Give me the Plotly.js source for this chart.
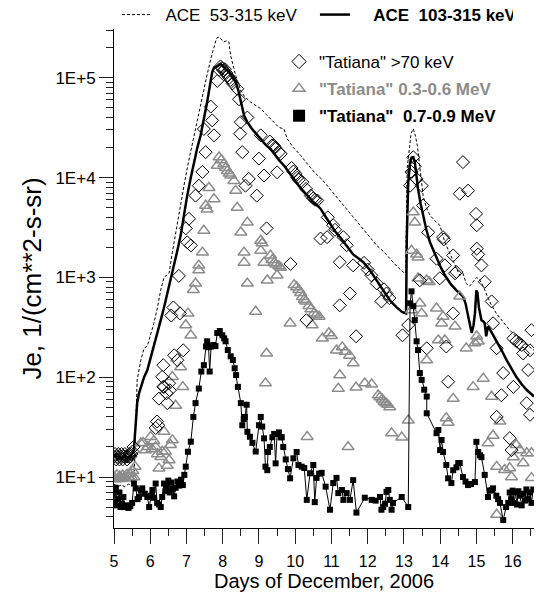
<!DOCTYPE html>
<html><head><meta charset="utf-8">
<script src="https://cdn.plot.ly/plotly-3.0.1.min.js"></script>
<style>html,body{margin:0;padding:0;overflow:hidden;background:#fff}#plot{width:600px;height:598px}</style>
</head><body><div id="plot"></div>
<script>
// ACE 53-315 keV (dashed)
const ace53Day = [5.0,5.1,5.2,5.3,5.4,5.5,5.55,5.6,5.64,5.74,5.83,5.92,6.0,6.1,6.2,6.29,6.38,6.52,6.6,6.7,6.8,6.93,7.05,7.21,7.32,7.44,7.55,7.67,7.76,7.83,7.90,8.03,8.1,8.17,8.22,8.3,8.36,8.5,8.6,8.77,8.9,9.05,9.2,9.32,9.45,9.55,9.69,9.78,9.95,10.15,10.35,10.52,10.75,10.96,11.2,11.42,11.6,11.79,11.97,12.25,12.45,12.61,12.8,12.98,13.05,13.09,13.15,13.2,13.26,13.32,13.37,13.44,13.53,13.62,13.72,13.85,13.99,14.13,14.25,14.36,14.54,14.63,14.72,14.81,14.9,15.01,15.1,15.2,15.3,15.4,15.55,15.7,15.92,16.05,16.2,16.4,16.59];
const ace53Val = [8.5,8,8.3,8,8.5,8.2,9,40,94,148,195,205,260,347,500,750,1000,1100,1700,2830,4500,8300,14000,26500,42000,66000,100000,155000,210000,250000,256000,229000,235000,229000,166000,130000,105000,74000,65000,57000,53000,49000,43000,38600,35000,31900,30700,24500,20000,16700,13500,11400,9500,7700,6000,4880,4000,3330,2830,2090,1800,1540,1300,1130,1100,12400,21000,28000,30800,26000,21000,12400,6600,5000,4200,3700,3330,2250,1800,1420,1050,1100,870,815,900,1000,935,800,650,540,436,370,296,265,235,210,186];
// ACE 103-315 keV (thick solid)
const ace103Day = [5.0,5.05,5.1,5.15,5.2,5.25,5.3,5.35,5.4,5.45,5.5,5.55,5.6,5.64,5.69,5.76,5.83,5.92,6.0,6.1,6.2,6.29,6.38,6.47,6.56,6.64,6.74,6.84,6.93,7.02,7.12,7.21,7.3,7.39,7.48,7.57,7.65,7.71,7.76,7.85,7.94,8.05,8.17,8.27,8.36,8.43,8.5,8.59,8.68,8.8,8.96,9.1,9.2,9.32,9.45,9.55,9.69,9.83,9.97,10.1,10.2,10.33,10.5,10.6,10.7,10.83,10.96,11.1,11.25,11.42,11.6,11.75,11.88,12.05,12.2,12.4,12.61,12.8,12.95,13.06,13.08,13.12,13.17,13.21,13.26,13.3,13.35,13.39,13.46,13.53,13.62,13.72,13.8,13.9,14.0,14.13,14.3,14.45,14.55,14.63,14.7,14.77,14.82,14.87,14.92,14.96,15.0,15.03,15.07,15.14,15.2,15.23,15.27,15.32,15.4,15.55,15.7,15.83,15.95,16.1,16.25,16.4,16.59];
const ace103Val = [16,17,15,16,15,16,17,15,16,16,17,19,40,55,69,85,100,118,150,203,280,373,500,690,900,1180,1800,2640,4200,6600,10000,14300,20000,26500,38000,57000,85000,114000,126000,130000,138000,125000,114000,100000,90600,75000,57000,41900,36000,31000,26500,23000,21000,19400,16500,15000,13200,11200,9700,8300,7500,6600,5700,5300,4880,4100,3440,2900,2500,2090,1700,1550,1420,1200,1000,780,590,500,450,436,2500,9000,14000,15900,16000,14300,10000,7700,5500,4200,3000,2250,1900,1540,1300,1050,850,740,680,645,550,405,330,277,330,436,740,700,500,373,360,347,257,323,290,235,185,149,125,101,85,74,64];
// "Tatiana" >70 keV (open diamonds)
const t70Day = [5.0,5.03,5.06,5.09,5.12,5.15,5.18,5.21,5.24,5.27,5.3,5.33,5.36,5.39,5.42,5.45,5.48,5.51,5.54,6.15,6.19,6.22,6.24,6.33,6.36,6.36,6.38,6.45,6.47,6.52,6.54,6.58,6.64,6.66,6.75,6.79,6.82,6.91,6.98,7.02,7.07,7.12,7.25,7.34,7.44,7.48,7.53,7.67,7.71,7.76,7.85,7.9,7.94,7.98,8.02,8.06,8.1,8.14,8.18,8.22,8.27,8.4,8.45,8.48,8.5,8.54,8.63,8.68,8.72,8.94,9.0,9.05,9.14,9.21,9.3,9.36,9.41,9.45,9.5,9.55,9.6,9.87,9.9,9.95,10.01,10.06,10.1,10.2,10.3,10.31,10.43,10.5,10.55,10.61,10.7,10.88,10.9,11.05,11.1,11.23,11.23,11.33,11.42,11.51,11.6,11.68,11.9,12.0,12.1,12.25,12.38,12.45,12.52,12.6,12.96,13.12,13.17,13.21,13.26,13.3,13.35,13.44,13.49,13.53,13.63,13.67,13.9,13.99,14.08,14.1,14.13,14.17,14.22,14.36,14.36,14.41,14.45,14.54,14.63,14.77,14.99,15.01,15.01,15.05,15.14,15.23,15.42,15.46,15.56,15.56,15.69,15.74,15.92,15.97,16.02,16.02,16.1,16.18,16.25,16.29,16.39,16.43,16.48,16.48,16.52];
const t70Val = [16,17,15,16,17,15,16,17,15,16,17,16,15,16,17,16,17,18,20,31,36,33,61,101,80,132,80,69,55,87,74,415,500,166,148,1035,436,186,3100,2250,3870,2090,6600,8300,11400,30700,18000,51500,37400,26500,93000,120000,130000,125000,118000,122000,112000,105000,100000,95000,88000,77500,61000,27500,36000,18000,8300,40000,9700,6600,15500,26500,10500,3100,23000,21000,21000,20000,11300,18000,17300,1365,12500,11500,10900,10000,9500,9000,7700,373,6600,6200,6000,5900,2450,2530,4000,3330,3000,1420,525,2530,2100,690,1320,257,1400,1200,1050,870,575,760,690,620,263,333,8300,11400,16000,13000,9700,935,8300,5250,195,2830,1540,980,2530,2400,1320,203,90,1660,436,1100,1130,6900,14300,7400,4330,3330,1940,1700,1320,905,575,347,195,40,66,110,24.5,18.6,80,245,230,220,210,173,55,118,186,42,296];
// "Tatiana" 0.3-0.6 MeV (open grey triangles)
const t03Day = [5.0,5.04,5.08,5.12,5.16,5.2,5.24,5.28,5.32,5.36,5.4,5.44,5.48,5.52,5.55,5.58,5.74,5.8,5.87,5.93,6.01,6.05,6.1,6.15,6.2,6.24,6.29,6.33,6.38,6.42,6.47,6.52,6.56,6.61,6.61,6.7,6.84,6.9,6.98,7.04,7.12,7.19,7.25,7.34,7.34,7.44,7.48,7.53,7.57,7.62,7.76,7.85,7.9,7.96,8.03,8.08,8.13,8.18,8.22,8.31,8.36,8.4,8.5,8.59,8.59,8.68,8.68,8.91,9.05,9.09,9.05,9.14,9.18,9.21,9.23,9.32,9.37,9.42,9.47,9.5,9.55,9.6,9.86,9.97,10.04,10.1,10.15,10.2,10.25,10.29,10.33,10.38,10.43,10.47,10.52,10.58,10.66,10.75,10.93,11.0,11.14,11.19,11.23,11.3,11.38,11.46,11.5,11.6,11.68,11.92,12.11,12.29,12.34,12.4,12.45,12.5,12.55,12.61,12.66,12.94,13.12,13.21,13.21,13.26,13.3,13.35,13.39,13.39,13.44,13.49,13.63,13.63,13.7,13.9,13.95,14.04,14.08,14.13,14.17,14.22,14.36,14.41,14.54,14.72,14.91,14.96,15.01,15.05,15.19,15.32,15.42,15.46,15.56,15.56,15.65,15.78,15.92,15.97,16.02,16.1,16.2,16.29,16.39,16.52,16.52];
const t03Val = [10,9.5,10.5,9.8,10.2,9.6,10.4,10,9.7,10.6,10.1,10.8,10,11.5,10,12.7,21.8,22,18.6,20,25.3,19,23,20,17,12.2,15.9,18,28.5,18,13,14.8,21,23.4,101,52,126,80,333,436,263,750,870,1180,1320,1780,2950,5250,4800,7900,6100,13200,16000,15000,13700,12500,11700,11000,10500,9300,7400,5000,2830,1780,1410,3550,870,455,2340,2200,1860,1410,87,173,935,1660,1500,1400,1350,1050,1300,1250,347,840,800,750,700,640,600,575,25.3,520,480,333,436,420,405,245,277,260,186,77,105,200,180,20,165,138,79,87,85,66,63,60,57,55,53,50,27.5,25,37,470,1860,4500,3550,1700,1590,980,550,436,935,148,900,490,235,347,405,235,39,35,61,323,645,195,80,219,257,229,97,21.8,64,26,12.7,4.2,36,11.8,12.3,10,15.8,21,18.6,13.8,17.4,17.4,9.8];
// "Tatiana" 0.7-0.9 MeV (filled squares joined by a line)
const t07Day = [5.0,5.03,5.05,5.08,5.12,5.15,5.18,5.22,5.26,5.3,5.35,5.4,5.45,5.5,5.55,5.6,5.65,5.69,5.74,5.78,5.85,5.92,5.97,6.02,6.06,6.1,6.15,6.19,6.24,6.29,6.33,6.38,6.42,6.45,6.5,6.54,6.58,6.62,6.66,6.7,6.75,6.8,6.85,6.9,6.94,6.98,7.04,7.12,7.19,7.25,7.34,7.41,7.48,7.54,7.57,7.61,7.64,7.68,7.74,7.8,7.85,7.92,7.99,8.04,8.08,8.14,8.22,8.28,8.33,8.37,8.42,8.5,8.54,8.58,8.61,8.66,8.68,8.75,8.82,8.91,9.0,9.05,9.09,9.14,9.18,9.23,9.25,9.3,9.37,9.42,9.46,9.5,9.55,9.6,9.63,9.67,9.74,9.8,9.86,9.95,10.04,10.09,10.18,10.25,10.32,10.41,10.5,10.54,10.59,10.66,10.73,10.84,10.96,11.05,11.14,11.19,11.29,11.33,11.42,11.51,11.6,11.69,11.92,12.11,12.22,12.34,12.38,12.43,12.48,12.52,12.57,12.61,12.66,12.7,12.94,13.12,13.17,13.21,13.26,13.3,13.35,13.39,13.44,13.49,13.56,13.63,13.63,13.9,13.95,14.0,14.04,14.08,14.17,14.22,14.31,14.36,14.45,14.5,14.54,14.63,14.7,14.77,14.85,14.96,15.0,15.05,15.1,15.14,15.23,15.32,15.37,15.42,15.46,15.55,15.6,15.65,15.74,15.82,15.88,15.92,15.96,16.0,16.04,16.08,16.12,16.16,16.2,16.25,16.3,16.34,16.38,16.43,16.48,16.52,16.57];
const t07Val = [7.4,5.6,7.8,5.2,6.0,7.0,5.0,5.4,6.3,5.0,5.2,4.9,5.1,5.5,8.6,7.7,6.0,6.3,7.3,7.7,6.8,6.3,5.0,6.5,7.4,6.2,8.6,5.5,5.3,5.0,6.3,8.6,7.2,8.0,9.2,7.0,8.8,7.6,6.4,7.8,9.0,8.2,9.4,8.3,10.5,12.7,17.9,22.6,40,55,77,114,132,203,229,200,114,203,210,205,277,290,263,245,229,187,162,149,123,105,80,55,33,38,40,53,28.4,25.3,22,18,33,40,32,24.4,12.7,11.7,17.8,20,25,27,13.7,27,28,25,25,20,15,12,9.7,15.4,17.8,13.2,12.7,12.3,5.9,10.9,13.2,5.6,9.8,10.8,11,8,4.7,8.7,9.8,6.9,7.4,5.9,6.9,5.9,9.3,4.4,6.2,5.9,5.8,6.3,4.7,5.0,5.4,7.1,7.4,5.9,4.7,5.5,6.3,5.0,550,725,515,373,229,187,110,94,75,64,43.5,27.5,29.6,18.6,23.5,17.8,13.2,9.7,8.7,11.7,12.5,13.8,13.8,10,9.0,8.3,8.5,8.9,22.5,17.8,16.5,15.8,10.5,6.3,7.3,7.4,7.7,6.5,6.0,5.5,3.7,5.0,5.5,7.0,6.0,7.3,5.5,7.0,5.3,7.2,6.5,5.2,6.8,5.8,7.5,6.0,7.0,5.5,7.5];
// axis ticks
const xTicks = [5,6,7,8,9,10,11,12,13,14,15,16];
const yTickVals = [10,100,1000,10000,100000];
const yTickText = ['1E+1','1E+2','1E+3','1E+4','1E+5'];

const FONT = 'Arial, "Liberation Sans", sans-serif';
const GREY = '#8c8c8c';
const minorY = [];
for (let e = 0; e <= 5; e++) for (let m = 2; m <= 9; m++) minorY.push(m * Math.pow(10, e));
const minorX = xTicks.map(v => v + 0.5);

const traces = [
  {x: ace53Day, y: ace53Val, mode: 'lines', name: '  ACE  53-315 keV', legend: 'legend',
   line: {color: '#000', width: 1, dash: '3px,2px'}},
  {x: ace103Day, y: ace103Val, mode: 'lines', name: '<b>    ACE  103-315 keV</b>', legend: 'legend',
   line: {color: '#000', width: 2.5}},
  {x: t03Day, y: t03Val, mode: 'markers', showlegend: false,
   marker: {symbol: 'triangle-up-open', size: 10.5, color: GREY, line: {color: GREY, width: 1.5}}},
  {x: t70Day, y: t70Val, mode: 'markers', showlegend: false,
   marker: {symbol: 'diamond-open', size: 10, color: '#000', line: {color: '#000', width: 1}}},
  {x: t07Day, y: t07Val, mode: 'lines+markers', showlegend: false,
   line: {color: '#000', width: 1},
   marker: {symbol: 'square', size: 6, color: '#000'}},
  // legend-only entries
  {x: [null], y: [null], mode: 'markers', name: '"Tatiana" >70 keV', legend: 'legend2', legendgroup: 'a',
   marker: {symbol: 'diamond-open', size: 11, color: '#000', line: {color: '#000', width: 1}}},
  {x: [null], y: [null], mode: 'markers', name: '<b><span style="color:#8c8c8c">"Tatiana" 0.3-0.6 MeV</span></b>', legend: 'legend2', legendgroup: 'b',
   marker: {symbol: 'triangle-up-open', size: 10.5, color: GREY, line: {color: GREY, width: 1.5}}},
  {x: [null], y: [null], mode: 'markers', name: '<b>"Tatiana"  0.7-0.9 MeV</b>', legend: 'legend2', legendgroup: 'c',
   marker: {symbol: 'square', size: 12, color: '#000'}}
];

const layout = {
  width: 600, height: 598,
  margin: {l: 114, r: 66, t: 29, b: 70, autoexpand: false},
  paper_bgcolor: '#fff', plot_bgcolor: '#fff',
  font: {family: FONT, color: '#000'},
  xaxis: {
    type: 'linear', range: [5, 16.59], tickmode: 'array', tickvals: xTicks,
    ticks: 'outside', ticklen: 15, tickwidth: 1, tickcolor: '#222',
    minor: {tickmode: 'array', tickvals: minorX, ticks: 'outside', ticklen: 7, tickcolor: '#222'},
    showline: true, linecolor: '#000', linewidth: 1, showgrid: false, zeroline: false,
    tickfont: {size: 16, family: FONT}, ticklabelstandoff: 4,
    title: {text: 'Days of December, 2006', font: {size: 20, family: FONT}, standoff: 3}
  },
  yaxis: {
    type: 'log', range: [0.489, 5.489], tickmode: 'array', tickvals: yTickVals, ticktext: yTickText,
    ticks: 'outside', ticklen: 14, tickwidth: 1, tickcolor: '#222',
    minor: {tickmode: 'array', tickvals: minorY, ticks: 'outside', ticklen: 7, tickcolor: '#222'},
    showline: true, linecolor: '#000', linewidth: 1, showgrid: false, zeroline: false,
    tickfont: {size: 17, family: FONT},
    title: {text: 'Je, 1/(cm**2-s-sr)', font: {size: 26, family: FONT}, standoff: 6}
  },
  legend: {
    orientation: 'h', x: 0.007, xanchor: 'left', y: 1.028, yanchor: 'middle',
    font: {size: 17, family: FONT, color: '#000'}, bgcolor: 'rgba(0,0,0,0)', entrywidth: 153, entrywidthmode: 'pixels'
  },
  legend2: {
    orientation: 'v', x: 0.393, xanchor: 'left', y: 0.97, yanchor: 'top',
    font: {size: 17, family: FONT, color: '#000'}, bgcolor: 'rgba(0,0,0,0)', tracegroupgap: 2
  },
  showlegend: true
};

Plotly.newPlot('plot', traces, layout, {displayModeBar: false, staticPlot: true});
</script></body></html>
